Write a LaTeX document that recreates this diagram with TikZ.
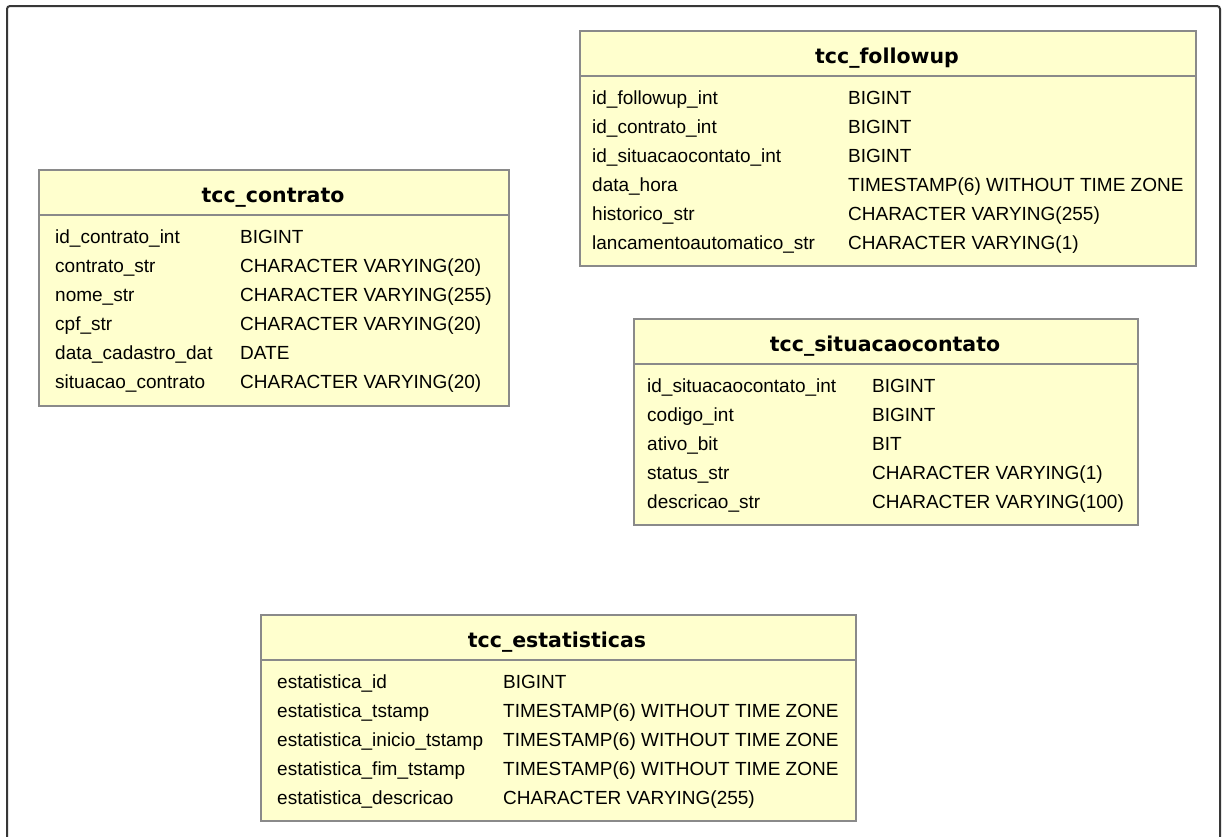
\documentclass[tikz,border=0pt]{standalone}
\usepackage{fontspec}
\setmainfont{Liberation Sans}
\newfontfamily\titlefont{DejaVu Sans}
\usetikzlibrary{calc}
\definecolor{tblfill}{RGB}{255,255,206}
\definecolor{tblborder}{RGB}{138,138,138}
\definecolor{framecol}{RGB}{55,55,55}
\tikzset{
  tablebox/.style={draw=tblborder, line width=1.5pt, fill=tblfill, rectangle, inner sep=0pt, anchor=north west},
  sepline/.style={draw=tblborder, line width=1.5pt},
  titletxt/.style={anchor=base, inner sep=0pt, font=\titlefont\bfseries\fontsize{20.5}{24}\selectfont},
  rowtxt/.style={anchor=base west, inner sep=0pt, font=\fontsize{19}{22}\selectfont, text=black},
  frameline/.style={draw=framecol, line width=2pt, rounded corners=3pt}
}
\begin{document}
\begin{tikzpicture}[x=1pt,y=-1pt]
\useasboundingbox (0,0) rectangle (1222,836);
\fill[white] (0,0) rectangle (1222,836);
\begin{scope}
\clip (0,0) rectangle (1222,836);
\draw[frameline] (7,860) -- (7,6) -- (1220,6) -- (1220,860);
\end{scope}

% ---------------- tcc_contrato
\node[tablebox, minimum width=470pt, minimum height=236pt] (contrato) at (38,169) {};
\draw[sepline] ([yshift=-46pt,xshift=1pt]contrato.north west) -- ([yshift=-46pt,xshift=-1pt]contrato.north east);
\node[titletxt] (contrato-title) at (273,202) {tcc\_contrato};
\node[rowtxt] (c1n) at (55,243) {id\_contrato\_int};
\node[rowtxt] (c1t) at (240,243) {BIGINT};
\node[rowtxt] (c2n) at (55,272) {contrato\_str};
\node[rowtxt] (c2t) at (240,272) {CHARACTER VARYING(20)};
\node[rowtxt] (c3n) at (55,301) {nome\_str};
\node[rowtxt] (c3t) at (240,301) {CHARACTER VARYING(255)};
\node[rowtxt] (c4n) at (55,330) {cpf\_str};
\node[rowtxt] (c4t) at (240,330) {CHARACTER VARYING(20)};
\node[rowtxt] (c5n) at (55,359) {data\_cadastro\_dat};
\node[rowtxt] (c5t) at (240,359) {DATE};
\node[rowtxt] (c6n) at (55,388) {situacao\_contrato};
\node[rowtxt] (c6t) at (240,388) {CHARACTER VARYING(20)};

% ---------------- tcc_followup
\node[tablebox, minimum width=616pt, minimum height=235pt] (followup) at (579,30) {};
\draw[sepline] ([yshift=-46pt,xshift=1pt]followup.north west) -- ([yshift=-46pt,xshift=-1pt]followup.north east);
\node[titletxt] (followup-title) at (887,63) {tcc\_followup};
\node[rowtxt] (f1n) at (592,104) {id\_followup\_int};
\node[rowtxt] (f1t) at (848,104) {BIGINT};
\node[rowtxt] (f2n) at (592,133) {id\_contrato\_int};
\node[rowtxt] (f2t) at (848,133) {BIGINT};
\node[rowtxt] (f3n) at (592,162) {id\_situacaocontato\_int};
\node[rowtxt] (f3t) at (848,162) {BIGINT};
\node[rowtxt] (f4n) at (592,191) {data\_hora};
\node[rowtxt] (f4t) at (848,191) {TIMESTAMP(6) WITHOUT TIME ZONE};
\node[rowtxt] (f5n) at (592,220) {historico\_str};
\node[rowtxt] (f5t) at (848,220) {CHARACTER VARYING(255)};
\node[rowtxt] (f6n) at (592,249) {lancamentoautomatico\_str};
\node[rowtxt] (f6t) at (848,249) {CHARACTER VARYING(1)};

% ---------------- tcc_situacaocontato
\node[tablebox, minimum width=504pt, minimum height=206pt] (situacao) at (633,318) {};
\draw[sepline] ([yshift=-46pt,xshift=1pt]situacao.north west) -- ([yshift=-46pt,xshift=-1pt]situacao.north east);
\node[titletxt] (situacao-title) at (885,351) {tcc\_situacaocontato};
\node[rowtxt] (s1n) at (647,392) {id\_situacaocontato\_int};
\node[rowtxt] (s1t) at (872,392) {BIGINT};
\node[rowtxt] (s2n) at (647,421) {codigo\_int};
\node[rowtxt] (s2t) at (872,421) {BIGINT};
\node[rowtxt] (s3n) at (647,450) {ativo\_bit};
\node[rowtxt] (s3t) at (872,450) {BIT};
\node[rowtxt] (s4n) at (647,479) {status\_str};
\node[rowtxt] (s4t) at (872,479) {CHARACTER VARYING(1)};
\node[rowtxt] (s5n) at (647,508) {descricao\_str};
\node[rowtxt] (s5t) at (872,508) {CHARACTER VARYING(100)};

% ---------------- tcc_estatisticas
\node[tablebox, minimum width=595pt, minimum height=206pt] (estat) at (260,614) {};
\draw[sepline] ([yshift=-46pt,xshift=1pt]estat.north west) -- ([yshift=-46pt,xshift=-1pt]estat.north east);
\node[titletxt] (estat-title) at (557,647) {tcc\_estatisticas};
\node[rowtxt] (e1n) at (277,688) {estatistica\_id};
\node[rowtxt] (e1t) at (503,688) {BIGINT};
\node[rowtxt] (e2n) at (277,717) {estatistica\_tstamp};
\node[rowtxt] (e2t) at (503,717) {TIMESTAMP(6) WITHOUT TIME ZONE};
\node[rowtxt] (e3n) at (277,746) {estatistica\_inicio\_tstamp};
\node[rowtxt] (e3t) at (503,746) {TIMESTAMP(6) WITHOUT TIME ZONE};
\node[rowtxt] (e4n) at (277,775) {estatistica\_fim\_tstamp};
\node[rowtxt] (e4t) at (503,775) {TIMESTAMP(6) WITHOUT TIME ZONE};
\node[rowtxt] (e5n) at (277,804) {estatistica\_descricao};
\node[rowtxt] (e5t) at (503,804) {CHARACTER VARYING(255)};
\end{tikzpicture}
\end{document}
